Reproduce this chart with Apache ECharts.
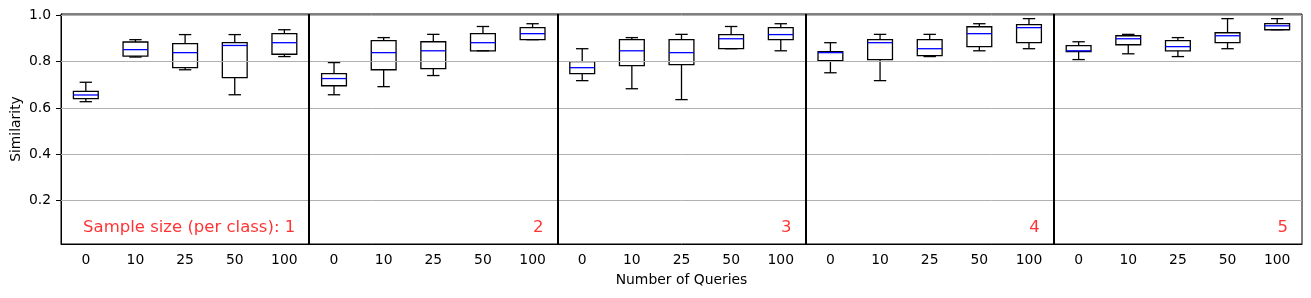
<!DOCTYPE html>
<html>
<head>
<meta charset="utf-8">
<script src="https://cdn.jsdelivr.net/npm/echarts@6/dist/echarts.min.js"></script>
<style>html,body{margin:0;padding:0;background:#fff}#c{width:1311px;height:298px}</style>
</head>
<body>
<div id="c"></div>
<script>
const queryLabels = ['0','10','25','50','100'];
const groupLabels = ['Sample size (per class): 1','2','3','4','5'];
const yTicks = [0.2, 0.4, 0.6, 0.8, 1.0];

// 25 boxes: 5 groups (sample size 1..5) x 5 query counts
const whiskerLow  = [0.627,0.820,0.765,0.657,0.822, 0.657,0.692,0.740,0.847,0.895, 0.718,0.683,0.636,0.856,0.847, 0.752,0.718,0.822,0.847,0.856, 0.809,0.834,0.822,0.856,0.938];
const q1          = [0.640,0.824,0.774,0.731,0.832, 0.696,0.765,0.770,0.847,0.895, 0.748,0.783,0.787,0.856,0.895, 0.804,0.809,0.826,0.865,0.882, 0.843,0.873,0.847,0.882,0.938];
const median      = [0.656,0.852,0.839,0.870,0.882, 0.727,0.839,0.847,0.882,0.921, 0.774,0.847,0.839,0.899,0.917, 0.839,0.882,0.856,0.921,0.947, 0.847,0.899,0.865,0.912,0.955];
const q3          = [0.672,0.885,0.878,0.882,0.921, 0.748,0.891,0.886,0.921,0.947, 0.800,0.895,0.895,0.917,0.947, 0.843,0.895,0.895,0.951,0.960, 0.869,0.912,0.891,0.925,0.964];
const whiskerHigh = [0.711,0.895,0.917,0.917,0.938, 0.796,0.904,0.918,0.952,0.964, 0.856,0.904,0.918,0.952,0.964, 0.882,0.918,0.918,0.964,0.986, 0.886,0.918,0.904,0.986,0.986];

const categories = [];
for (let g = 0; g < groupLabels.length; g++) for (let q = 0; q < queryLabels.length; q++) categories.push(queryLabels[q]);
const boxData = categories.map((c, i) => [i, whiskerLow[i], q1[i], median[i], q3[i], whiskerHigh[i]]);
const nQ = queryLabels.length;
const labelData = groupLabels.map((t, g) => ({ value: [(g + 1) * nQ, 0.084], name: t }));
const sepLines = [];
for (let g = 1; g < groupLabels.length; g++) sepLines.push({ xAxis: g * nQ });
const gridLines = yTicks.map(v => ({ yAxis: v, lineStyle: { color: '#b0b0b0', width: 1, type: 'solid' } }));

const FONT = 'DejaVu Sans';
const chart = echarts.init(document.getElementById('c'), null, { renderer: 'canvas' });

function renderBox(params, api) {
  const idx = api.value(0);
  const bw = api.size([1, 0])[0];
  const half = bw * 0.25, cap = bw * 0.125;
  const x = api.coord([idx, api.value(3)])[0];
  const yLow = api.coord([idx, api.value(1)])[1];
  const yQ1 = api.coord([idx, api.value(2)])[1];
  const yMed = api.coord([idx, api.value(3)])[1];
  const yQ3 = api.coord([idx, api.value(4)])[1];
  const yHigh = api.coord([idx, api.value(5)])[1];
  const st = { stroke: '#000', lineWidth: 1.3, fill: null };
  return {
    type: 'group',
    children: [
      { type: 'line', shape: { x1: x, y1: yQ3, x2: x, y2: yHigh }, style: st },
      { type: 'line', shape: { x1: x, y1: yQ1, x2: x, y2: yLow }, style: st },
      { type: 'line', shape: { x1: x - cap, y1: yHigh, x2: x + cap, y2: yHigh }, style: st },
      { type: 'line', shape: { x1: x - cap, y1: yLow, x2: x + cap, y2: yLow }, style: st },
      { type: 'rect', shape: { x: x - half, y: yQ3, width: 2 * half, height: yQ1 - yQ3 }, style: { stroke: '#000', lineWidth: 1.3, fill: 'rgba(0,0,0,0)' } },
      { type: 'line', shape: { x1: x - half, y1: yMed, x2: x + half, y2: yMed }, style: { stroke: '#0000ff', lineWidth: 1.3 } }
    ]
  };
}

chart.setOption({
  animation: false,
  backgroundColor: '#fff',
  textStyle: { fontFamily: FONT },
  grid: { left: 61, right: 9, top: 14, bottom: 54, containLabel: false, outerBoundsMode: 'none', show: true, borderColor: '#000', borderWidth: 1, backgroundColor: 'transparent' },
  xAxis: [
    {
      type: 'category', data: categories, boundaryGap: true,
      name: 'Number of Queries', nameLocation: 'middle', nameGap: 29, nameMoveOverlap: false,
      nameTextStyle: { fontFamily: FONT, fontSize: 13.9, color: '#000' },
      axisLine: { lineStyle: { color: '#000', width: 1 } },
      axisTick: { alignWithLabel: true, length: 5, lineStyle: { color: '#000' } },
      axisLabel: { fontFamily: FONT, fontSize: 13.9, color: '#000', margin: 9, interval: 0 },
      splitLine: { show: false }
    },
    { type: 'value', min: 0, max: categories.length, show: false }
  ],
  yAxis: {
    type: 'value', min: 0.012, max: 1.006,
    name: 'Similarity', nameLocation: 'middle', nameGap: 38, nameRotate: 90, nameMoveOverlap: false,
    nameTextStyle: { fontFamily: FONT, fontSize: 13.9, color: '#000' },
    axisLine: { show: true, lineStyle: { color: '#000', width: 1 } },
    axisTick: { show: true, length: 5, customValues: yTicks, lineStyle: { color: '#000' } },
    axisLabel: { fontFamily: FONT, fontSize: 13.9, color: '#000', margin: 10, customValues: yTicks, formatter: v => v.toFixed(1) },
    splitLine: { show: false }
  },
  series: [
    {
      type: 'scatter', xAxisIndex: 1, data: labelData, symbolSize: 0, silent: true, z: 1,
      label: { show: true, position: 'left', distance: 14, formatter: p => p.name, color: '#ff0000', fontFamily: FONT, fontSize: 16.5 },
      markLine: {
        silent: true, symbol: 'none', label: { show: false }, animation: false,
        data: gridLines.concat(sepLines.map(s => Object.assign({}, s, { lineStyle: { color: '#000', width: 2, type: 'solid' } })))
      }
    },
    {
      type: 'custom', xAxisIndex: 0, data: boxData, renderItem: renderBox, z: 3,
      encode: { x: 0, y: [1, 2, 3, 4, 5] }
    }
  ]
});
</script>
</body>
</html>
